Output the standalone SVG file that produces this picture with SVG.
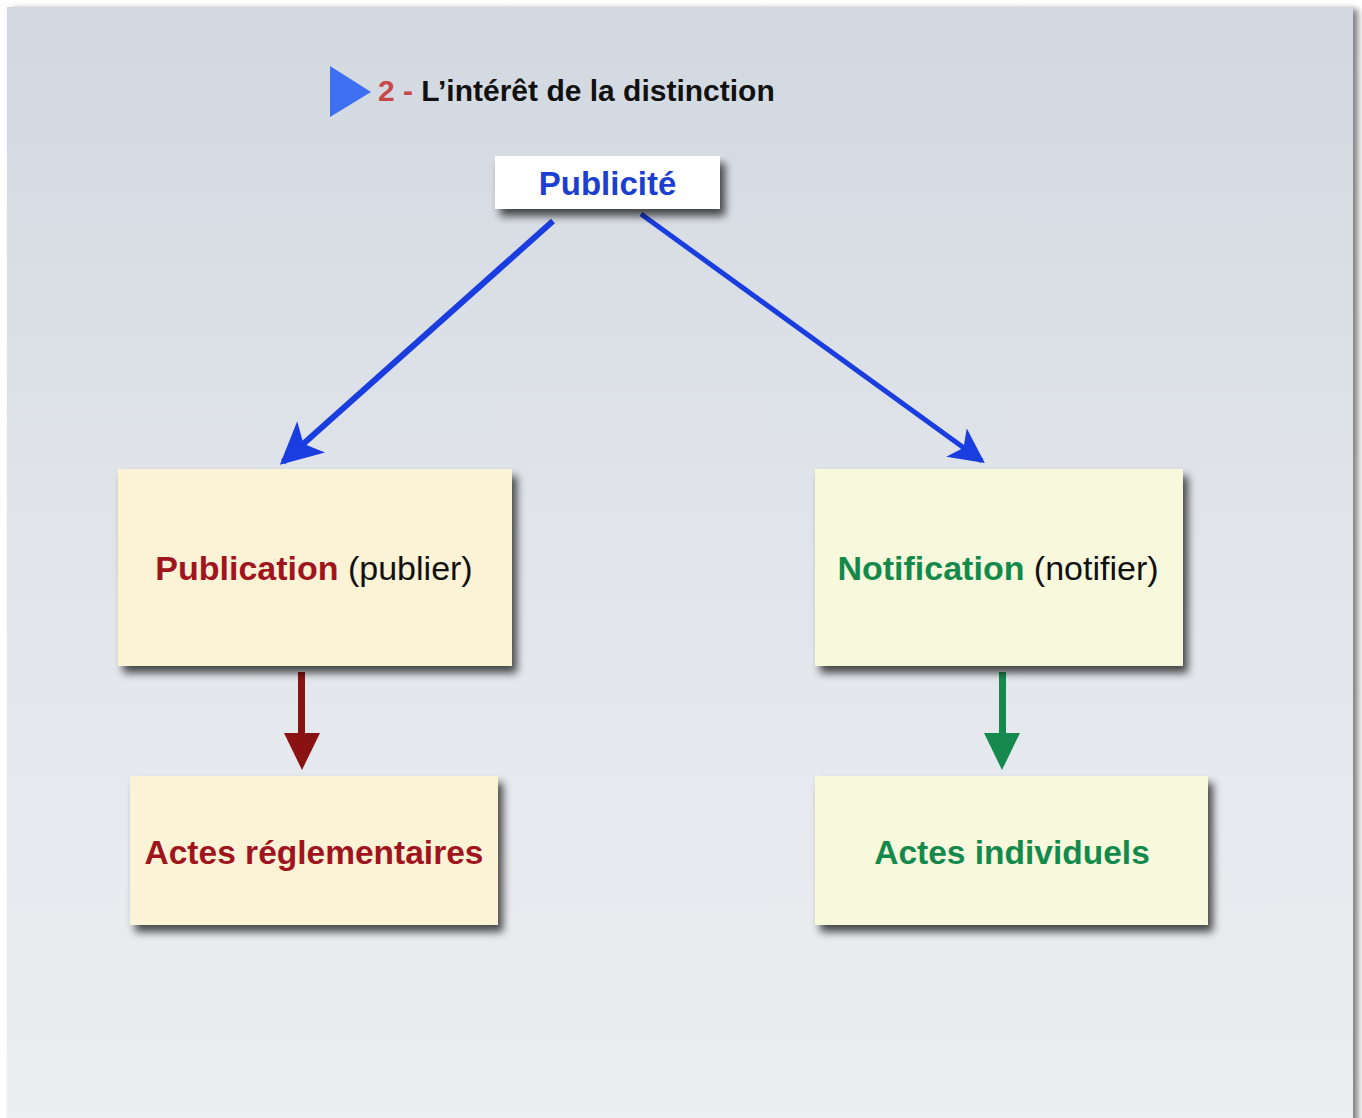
<svg xmlns="http://www.w3.org/2000/svg" width="1362" height="1118" viewBox="0 0 1362 1118">
<defs>
<linearGradient id="bg" x1="0" y1="0" x2="0" y2="1">
<stop offset="0" stop-color="#d2d8e0"/>
<stop offset="0.5" stop-color="#e2e6eb"/>
<stop offset="1" stop-color="#eceef1"/>
</linearGradient>
<filter id="sh" x="-10%" y="-10%" width="130%" height="140%">
<feGaussianBlur in="SourceAlpha" stdDeviation="4"/>
<feOffset dx="5" dy="7" result="b"/>
<feComponentTransfer><feFuncA type="linear" slope="0.7"/></feComponentTransfer>
<feMerge><feMergeNode/><feMergeNode in="SourceGraphic"/></feMerge>
</filter>
<filter id="slsh" x="-5%" y="-5%" width="110%" height="110%">
<feGaussianBlur in="SourceAlpha" stdDeviation="3"/>
<feOffset dx="5" dy="2"/>
<feComponentTransfer><feFuncA type="linear" slope="0.5"/></feComponentTransfer>
<feMerge><feMergeNode/><feMergeNode in="SourceGraphic"/></feMerge>
</filter>
<marker id="mb" viewBox="0 0 10 10" refX="9" refY="5" markerWidth="7" markerHeight="7" markerUnits="strokeWidth" orient="auto">
<path d="M0,0 L10,5 L0,10 L2.5,5 Z" fill="#1a3de0"/>
</marker>
</defs>
<style>
text{font-family:"Liberation Sans",Arial,sans-serif;}
.b{font-weight:bold;}
.box{filter:url(#sh);}
</style>
<rect x="0" y="0" width="1362" height="1118" fill="#ffffff"/>
<rect x="7" y="7" width="1346" height="1120" fill="url(#bg)" filter="url(#slsh)"/>

<g id="title">
<polygon points="330,66 330,117 371,92" fill="#3e6ff0"/>
<text x="378" y="101" font-size="30" class="b"><tspan fill="#c8484a">2 - </tspan><tspan fill="#111111">L’intérêt de la distinction</tspan></text>
</g>

<g id="connectors">
<line x1="553" y1="221" x2="283" y2="462" stroke="#1a3de0" stroke-width="6" marker-end="url(#mb)"/>
<line x1="641" y1="214" x2="982" y2="461" stroke="#1a3de0" stroke-width="5" marker-end="url(#mb)"/>
<rect x="298" y="672" width="7" height="64" fill="#8b1212"/>
<polygon points="284,733 320,733 302,770" fill="#8b1212"/>
<rect x="999" y="672" width="7" height="64" fill="#168a4e"/>
<polygon points="984,733 1020,733 1002,770" fill="#168a4e"/>
</g>

<g id="publicite">
<rect x="495" y="156" width="225" height="53" fill="#ffffff" class="box"/>
<text x="607.5" y="195" font-size="33" class="b" fill="#1c3fcf" text-anchor="middle">Publicité</text>
</g>

<g id="publication">
<rect x="118" y="469" width="394" height="197" fill="#fcf2d6" class="box"/>
<text x="314" y="580" font-size="34" text-anchor="middle"><tspan class="b" fill="#a0141e">Publication</tspan><tspan fill="#111111"> (publier)</tspan></text>
</g>

<g id="notification">
<rect x="815" y="469" width="368" height="197" fill="#f8f8dc" class="box"/>
<text x="998" y="580" font-size="34" text-anchor="middle"><tspan class="b" fill="#138a4c">Notification</tspan><tspan fill="#111111"> (notifier)</tspan></text>
</g>

<g id="actes-reglementaires">
<rect x="130" y="776" width="368" height="149" fill="#fcf2d6" class="box"/>
<text x="314" y="864" font-size="33.5" class="b" fill="#a0141e" text-anchor="middle">Actes réglementaires</text>
</g>

<g id="actes-individuels">
<rect x="815" y="776" width="393" height="149" fill="#f8f8dc" class="box"/>
<text x="1012" y="864" font-size="33.5" class="b" fill="#138a4c" text-anchor="middle">Actes individuels</text>
</g>
</svg>
